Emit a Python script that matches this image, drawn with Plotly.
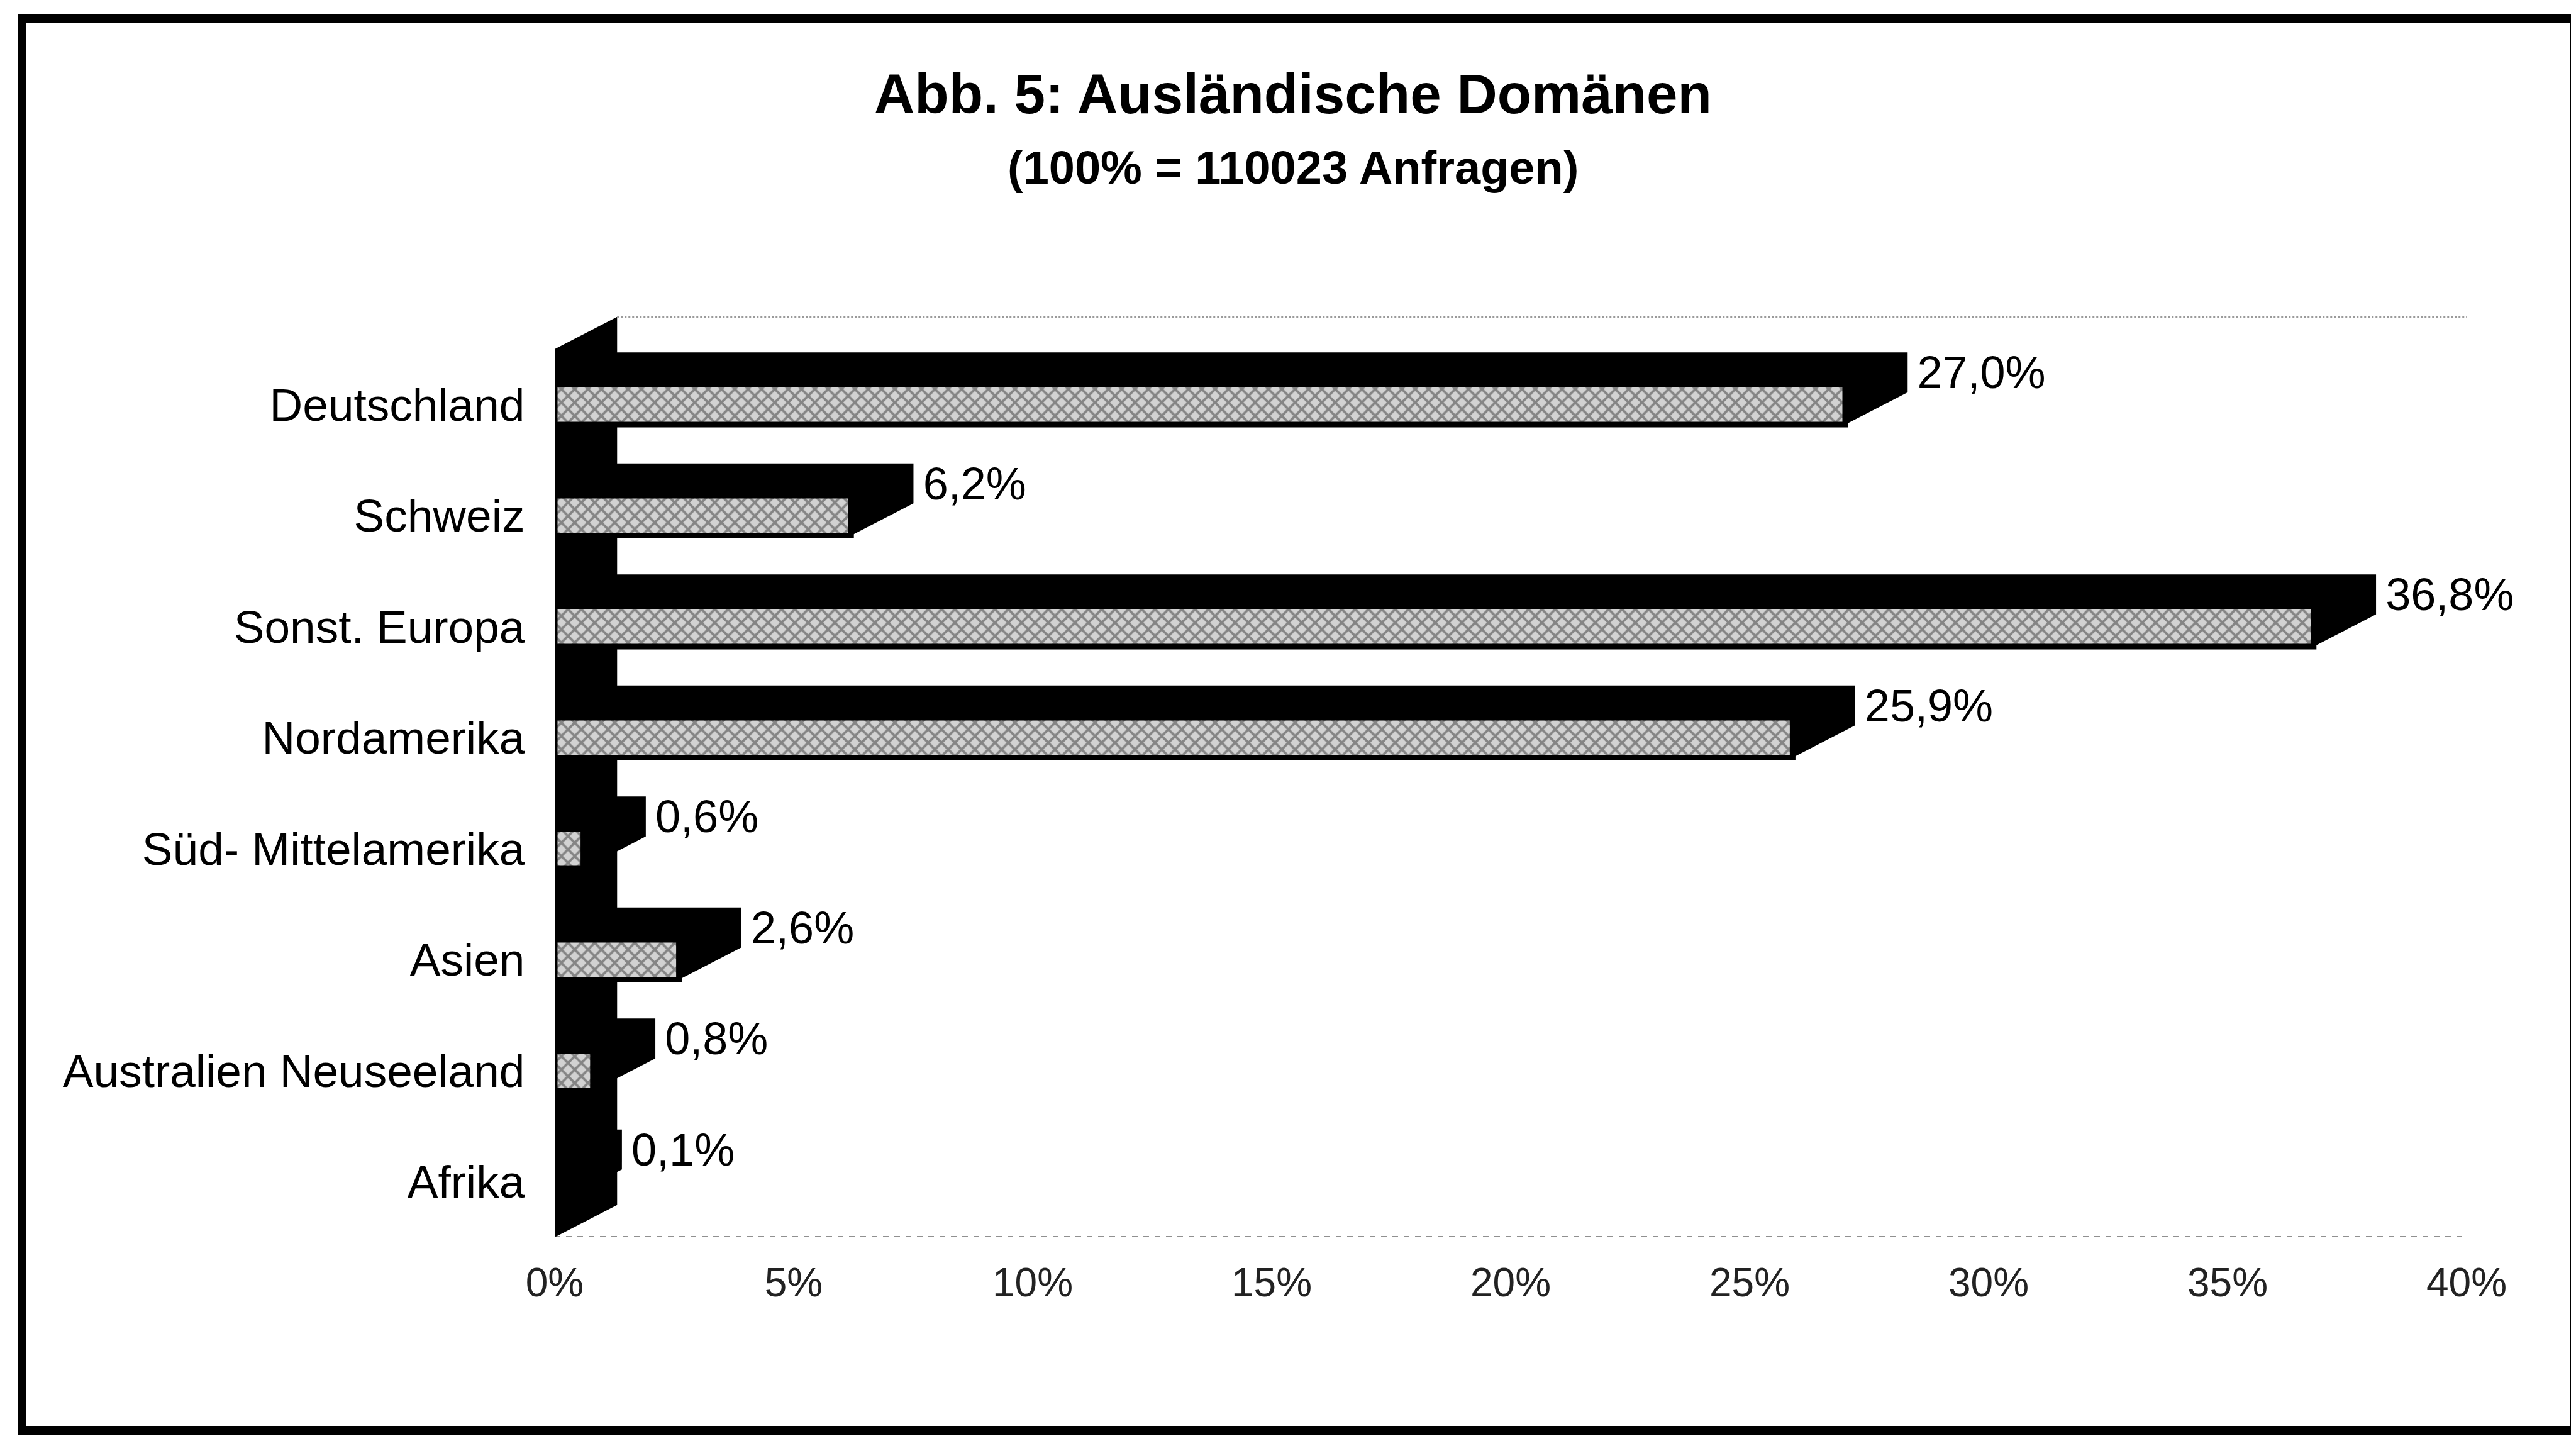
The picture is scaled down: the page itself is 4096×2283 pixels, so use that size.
import plotly.graph_objects as go

# ---------------- data ----------------
categories = ["Deutschland", "Schweiz", "Sonst. Europa", "Nordamerika",
              "Süd- Mittelamerika", "Asien", "Australien Neuseeland", "Afrika"]
values = [27.0, 6.2, 36.8, 25.9, 0.6, 2.6, 0.8, 0.1]
value_labels = ["27,0%", "6,2%", "36,8%", "25,9%", "0,6%", "2,6%", "0,8%", "0,1%"]
x_ticks = [0, 5, 10, 15, 20, 25, 30, 35, 40]
x_tick_labels = ["0%", "5%", "10%", "15%", "20%", "25%", "30%", "35%", "40%"]
title_text = "Abb. 5: Ausländische Domänen"
subtitle_text = "(100% = 110023 Anfragen)"

# ---------------- layout constants ----------------
W, H = 4096, 2283
ML, MR, MT, MB = 874, 30, 494, 324
X_RANGE = [0, 42]
Y_RANGE = [7.5, -0.8]          # reversed: first category on top
DX = 1.306                      # 3D depth (x units)
DY = 0.29                       # 3D depth (y units)
BAR_W = 0.36
FONT = "Liberation Sans, Arial, sans-serif"

pos = list(range(len(categories)))
n = len(categories)
PW = W - ML - MR
PH = H - MT - MB


def px_to_paper_x(px):
    return (px - ML) / PW


def px_to_paper_y(py):
    return (H - MB - py) / PH


def path(points):
    return "M " + " L ".join(f"{x},{y}" for x, y in points) + " Z"


shapes = []
# left wall (floor of the horizontal 3D bars)
y_top, y_bot = -0.5, n - 0.5
shapes.append(dict(type="path", xref="x", yref="y", layer="below",
                   path=path([(0, y_top), (DX, y_top - DY), (DX, y_bot - DY), (0, y_bot)]),
                   fillcolor="black", line=dict(width=0)))
# black 3D silhouettes of each bar
h = BAR_W / 2
for c, v in zip(pos, values):
    pts = [(0, c - h), (DX, c - h - DY), (v + DX, c - h - DY),
           (v + DX, c + h - DY), (v, c + h), (0, c + h)]
    shapes.append(dict(type="path", xref="x", yref="y", layer="below",
                       path=path(pts), fillcolor="black", line=dict(width=0)))

# outer frame of the figure
shapes.append(dict(type="rect", xref="paper", yref="paper",
                   x0=px_to_paper_x(27), x1=px_to_paper_x(4086),
                   y0=px_to_paper_y(2266), y1=px_to_paper_y(21),
                   line=dict(color="black", width=14), fillcolor="rgba(0,0,0,0)"))

fig = go.Figure()

# front faces of the bars
fig.add_trace(go.Bar(
    x=values, y=pos, orientation="h", base=0, width=BAR_W,
    marker=dict(color="#c0c0c0",
                line=dict(color="black", width=9),
                pattern=dict(shape="x", fgcolor="#383838", bgcolor="#d2d2d2",
                             size=15, solidity=0.45)),
    hoverinfo="skip", showlegend=False))

# back-top edge (dotted) and front floor edge (dashed)
fig.add_trace(go.Scatter(
    x=[DX, x_ticks[-1]], y=[y_top - DY, y_top - DY], mode="lines",
    line=dict(color="#9a9a9a", width=3, dash="dot"), hoverinfo="skip",
    showlegend=False, cliponaxis=False))
fig.add_trace(go.Scatter(
    x=[0, x_ticks[-1]], y=[y_bot, y_bot], mode="lines",
    line=dict(color="#222222", width=3, dash="dash"), hoverinfo="skip",
    showlegend=False, cliponaxis=False))

# value labels
fig.add_trace(go.Scatter(
    x=[v + DX + 0.2 for v in values], y=[c - 0.25 for c in pos],
    mode="text", text=value_labels, textposition="middle right",
    textfont=dict(family=FONT, size=72, color="black"),
    hoverinfo="skip", showlegend=False, cliponaxis=False))

fig.update_layout(
    width=W, height=H,
    margin=dict(l=ML, r=MR, t=MT, b=MB, pad=0),
    paper_bgcolor="white", plot_bgcolor="white",
    showlegend=False,
    shapes=shapes,
    font=dict(family=FONT, color="black"),
    annotations=[
        dict(text=f"<b>{title_text}</b>", xref="paper", yref="paper",
             x=px_to_paper_x(W / 2), y=px_to_paper_y(141), xanchor="center",
             yanchor="middle", showarrow=False,
             font=dict(family=FONT, size=89, color="black")),
        dict(text=f"<b>{subtitle_text}</b>", xref="paper", yref="paper",
             x=px_to_paper_x(W / 2), y=px_to_paper_y(258), xanchor="center",
             yanchor="middle", showarrow=False,
             font=dict(family=FONT, size=74, color="black")),
    ],
    xaxis=dict(range=X_RANGE, tickvals=x_ticks, ticktext=x_tick_labels,
               showgrid=False, zeroline=False, showline=False,
               ticks="outside", ticklen=0, tickcolor="white",
               ticklabelstandoff=16,
               tickfont=dict(family=FONT, size=64, color="#222222")),
    yaxis=dict(range=Y_RANGE, tickvals=pos, ticktext=categories,
               showgrid=False, zeroline=False, showline=False,
               ticks="outside", ticklen=0, tickcolor="white",
               ticklabelstandoff=32,
               tickfont=dict(family=FONT, size=73, color="black")),
)

fig.write_html("out.html")
